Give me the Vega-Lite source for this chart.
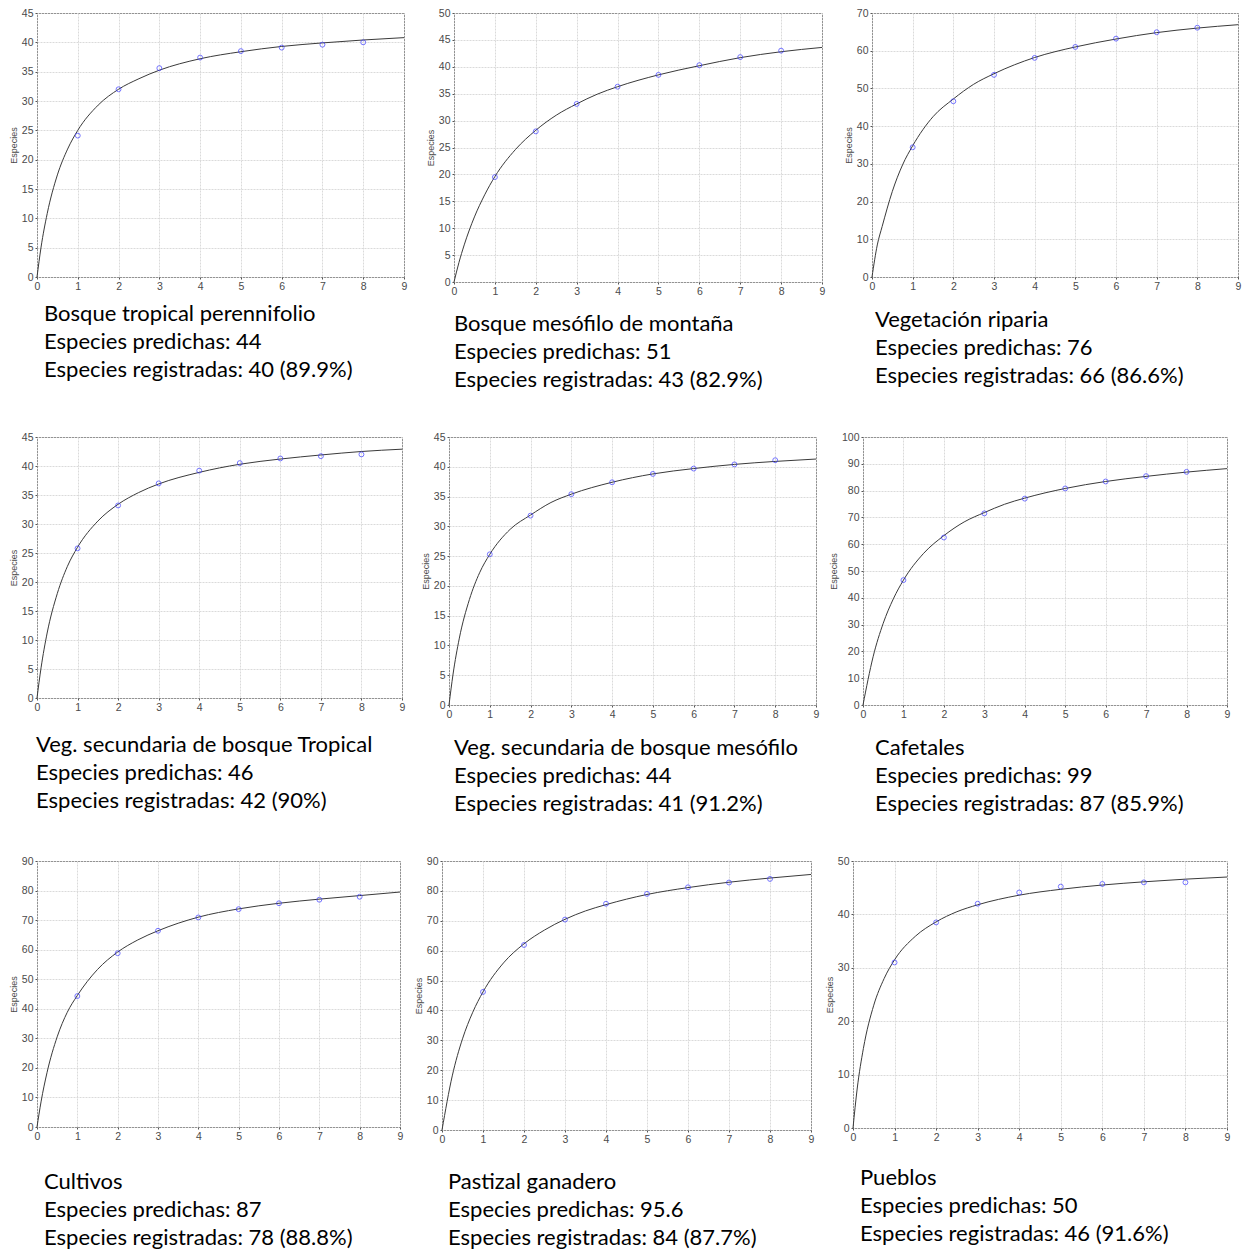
{
  "$schema": "https://vega.github.io/schema/vega-lite/v6.json",
  "background": "white",
  "padding": {"left": 8, "top": 7, "right": 0, "bottom": 0},
  "config": {
    "view": {"stroke": "#4d4d4d", "strokeWidth": 1},
    "font": "Liberation Sans",
    "axis": {
      "domain": false, "grid": true, "gridColor": "#dadada", "gridDash": [2, 1], "gridWidth": 1,
      "ticks": true, "tickSize": 2, "tickColor": "#555555",
      "labelFont": "Liberation Sans", "labelFontSize": 10.5, "labelColor": "#4a4a4a", "labelPadding": 2,
      "labelFlush": false, "labelOverlap": false,
      "titleFont": "Liberation Sans", "titleFontSize": 9, "titleFontWeight": "normal", "titleColor": "#4a4a4a", "titlePadding": 3
    },
    "title": {"font": "Lato", "fontSize": 22, "fontWeight": "normal", "color": "#000000", "lineHeight": 28, "orient": "bottom", "anchor": "start", "frame": "group"},
    "line": {"color": "#3a3a3a", "strokeWidth": 1, "interpolate": "monotone"},
    "point": {"shape": "circle", "filled": false, "size": 24, "color": "#3b3bff", "strokeWidth": 1}
  },
  "datasets": {
    "obs": [
      {"p": 1, "x": 1, "y": 24.1}, {"p": 1, "x": 2, "y": 32.0}, {"p": 1, "x": 3, "y": 35.6}, {"p": 1, "x": 4, "y": 37.4}, {"p": 1, "x": 5, "y": 38.5}, {"p": 1, "x": 6, "y": 39.1}, {"p": 1, "x": 7, "y": 39.6}, {"p": 1, "x": 8, "y": 40.0},
      {"p": 2, "x": 1, "y": 19.5}, {"p": 2, "x": 2, "y": 28.0}, {"p": 2, "x": 3, "y": 33.1}, {"p": 2, "x": 4, "y": 36.3}, {"p": 2, "x": 5, "y": 38.5}, {"p": 2, "x": 6, "y": 40.3}, {"p": 2, "x": 7, "y": 41.8}, {"p": 2, "x": 8, "y": 43.0},
      {"p": 3, "x": 1, "y": 34.4}, {"p": 3, "x": 2, "y": 46.6}, {"p": 3, "x": 3, "y": 53.6}, {"p": 3, "x": 4, "y": 58.1}, {"p": 3, "x": 5, "y": 61.0}, {"p": 3, "x": 6, "y": 63.2}, {"p": 3, "x": 7, "y": 64.9}, {"p": 3, "x": 8, "y": 66.1},
      {"p": 4, "x": 1, "y": 25.8}, {"p": 4, "x": 2, "y": 33.2}, {"p": 4, "x": 3, "y": 37.0}, {"p": 4, "x": 4, "y": 39.2}, {"p": 4, "x": 5, "y": 40.5}, {"p": 4, "x": 6, "y": 41.3}, {"p": 4, "x": 7, "y": 41.7}, {"p": 4, "x": 8, "y": 42.0},
      {"p": 5, "x": 1, "y": 25.3}, {"p": 5, "x": 2, "y": 31.8}, {"p": 5, "x": 3, "y": 35.4}, {"p": 5, "x": 4, "y": 37.4}, {"p": 5, "x": 5, "y": 38.8}, {"p": 5, "x": 6, "y": 39.7}, {"p": 5, "x": 7, "y": 40.4}, {"p": 5, "x": 8, "y": 41.1},
      {"p": 6, "x": 1, "y": 46.6}, {"p": 6, "x": 2, "y": 62.5}, {"p": 6, "x": 3, "y": 71.5}, {"p": 6, "x": 4, "y": 77.0}, {"p": 6, "x": 5, "y": 80.8}, {"p": 6, "x": 6, "y": 83.4}, {"p": 6, "x": 7, "y": 85.4}, {"p": 6, "x": 8, "y": 87.0},
      {"p": 7, "x": 1, "y": 44.3}, {"p": 7, "x": 2, "y": 58.8}, {"p": 7, "x": 3, "y": 66.4}, {"p": 7, "x": 4, "y": 70.9}, {"p": 7, "x": 5, "y": 73.7}, {"p": 7, "x": 6, "y": 75.7}, {"p": 7, "x": 7, "y": 76.9}, {"p": 7, "x": 8, "y": 77.9},
      {"p": 8, "x": 1, "y": 46.2}, {"p": 8, "x": 2, "y": 61.9}, {"p": 8, "x": 3, "y": 70.4}, {"p": 8, "x": 4, "y": 75.7}, {"p": 8, "x": 5, "y": 79.0}, {"p": 8, "x": 6, "y": 81.2}, {"p": 8, "x": 7, "y": 82.8}, {"p": 8, "x": 8, "y": 84.0},
      {"p": 9, "x": 1, "y": 31.0}, {"p": 9, "x": 2, "y": 38.5}, {"p": 9, "x": 3, "y": 42.0}, {"p": 9, "x": 4, "y": 44.1}, {"p": 9, "x": 5, "y": 45.2}, {"p": 9, "x": 6, "y": 45.7}, {"p": 9, "x": 7, "y": 46.0}, {"p": 9, "x": 8, "y": 46.0}
    ],
    "curva": [
      {"p": 1, "x": 0, "y": 0}, {"p": 1, "x": 0.1, "y": 5.1}, {"p": 1, "x": 0.25, "y": 10.8}, {"p": 1, "x": 0.5, "y": 17.4}, {"p": 1, "x": 0.75, "y": 21.8}, {"p": 1, "x": 1, "y": 25.0}, {"p": 1, "x": 1.5, "y": 29.3}, {"p": 1, "x": 2, "y": 32.0}, {"p": 1, "x": 2.5, "y": 33.8}, {"p": 1, "x": 3, "y": 35.25}, {"p": 1, "x": 4, "y": 37.2}, {"p": 1, "x": 5, "y": 38.4}, {"p": 1, "x": 6, "y": 39.3}, {"p": 1, "x": 7, "y": 39.9}, {"p": 1, "x": 8, "y": 40.4}, {"p": 1, "x": 9, "y": 40.8},
      {"p": 2, "x": 0, "y": 0}, {"p": 2, "x": 0.12, "y": 3.6}, {"p": 2, "x": 0.25, "y": 6.9}, {"p": 2, "x": 0.5, "y": 12.1}, {"p": 2, "x": 0.75, "y": 16.2}, {"p": 2, "x": 1, "y": 19.6}, {"p": 2, "x": 1.5, "y": 24.6}, {"p": 2, "x": 2, "y": 28.2}, {"p": 2, "x": 2.5, "y": 31.0}, {"p": 2, "x": 3, "y": 33.1}, {"p": 2, "x": 3.5, "y": 34.9}, {"p": 2, "x": 4, "y": 36.3}, {"p": 2, "x": 5, "y": 38.5}, {"p": 2, "x": 6, "y": 40.2}, {"p": 2, "x": 7, "y": 41.7}, {"p": 2, "x": 8, "y": 42.8}, {"p": 2, "x": 9, "y": 43.6},
      {"p": 3, "x": 0, "y": 0}, {"p": 3, "x": 0.13, "y": 8.5}, {"p": 3, "x": 0.25, "y": 13.4}, {"p": 3, "x": 0.5, "y": 22.7}, {"p": 3, "x": 0.75, "y": 29.7}, {"p": 3, "x": 1, "y": 34.8}, {"p": 3, "x": 1.5, "y": 42.5}, {"p": 3, "x": 2, "y": 47.2}, {"p": 3, "x": 2.5, "y": 51.1}, {"p": 3, "x": 3, "y": 53.9}, {"p": 3, "x": 4, "y": 58.2}, {"p": 3, "x": 5, "y": 61.0}, {"p": 3, "x": 6, "y": 63.1}, {"p": 3, "x": 7, "y": 64.8}, {"p": 3, "x": 8, "y": 66.0}, {"p": 3, "x": 9, "y": 66.9},
      {"p": 4, "x": 0, "y": 0}, {"p": 4, "x": 0.1, "y": 5.2}, {"p": 4, "x": 0.25, "y": 11.2}, {"p": 4, "x": 0.5, "y": 18.0}, {"p": 4, "x": 0.75, "y": 22.7}, {"p": 4, "x": 1, "y": 26.0}, {"p": 4, "x": 1.5, "y": 30.5}, {"p": 4, "x": 2, "y": 33.4}, {"p": 4, "x": 2.5, "y": 35.4}, {"p": 4, "x": 3, "y": 36.9}, {"p": 4, "x": 4, "y": 38.9}, {"p": 4, "x": 5, "y": 40.3}, {"p": 4, "x": 6, "y": 41.2}, {"p": 4, "x": 7, "y": 41.9}, {"p": 4, "x": 8, "y": 42.5}, {"p": 4, "x": 9, "y": 42.9},
      {"p": 5, "x": 0, "y": 0}, {"p": 5, "x": 0.1, "y": 5.2}, {"p": 5, "x": 0.25, "y": 11.1}, {"p": 5, "x": 0.5, "y": 17.7}, {"p": 5, "x": 0.75, "y": 22.2}, {"p": 5, "x": 1, "y": 25.3}, {"p": 5, "x": 1.5, "y": 29.5}, {"p": 5, "x": 2, "y": 31.9}, {"p": 5, "x": 2.5, "y": 34.0}, {"p": 5, "x": 3, "y": 35.4}, {"p": 5, "x": 4, "y": 37.4}, {"p": 5, "x": 5, "y": 38.8}, {"p": 5, "x": 6, "y": 39.7}, {"p": 5, "x": 7, "y": 40.4}, {"p": 5, "x": 8, "y": 40.9}, {"p": 5, "x": 9, "y": 41.3},
      {"p": 6, "x": 0, "y": 0}, {"p": 6, "x": 0.25, "y": 18.0}, {"p": 6, "x": 0.5, "y": 30.5}, {"p": 6, "x": 0.75, "y": 39.6}, {"p": 6, "x": 1, "y": 46.6}, {"p": 6, "x": 1.5, "y": 56.6}, {"p": 6, "x": 2, "y": 63.2}, {"p": 6, "x": 2.5, "y": 68.3}, {"p": 6, "x": 3, "y": 71.8}, {"p": 6, "x": 3.5, "y": 74.9}, {"p": 6, "x": 4, "y": 77.2}, {"p": 6, "x": 5, "y": 80.8}, {"p": 6, "x": 6, "y": 83.4}, {"p": 6, "x": 7, "y": 85.3}, {"p": 6, "x": 8, "y": 86.9}, {"p": 6, "x": 9, "y": 88.2},
      {"p": 7, "x": 0, "y": 0}, {"p": 7, "x": 0.1, "y": 8.5}, {"p": 7, "x": 0.25, "y": 18.5}, {"p": 7, "x": 0.5, "y": 30.5}, {"p": 7, "x": 0.75, "y": 38.8}, {"p": 7, "x": 1, "y": 44.5}, {"p": 7, "x": 1.5, "y": 53.3}, {"p": 7, "x": 2, "y": 59.2}, {"p": 7, "x": 2.5, "y": 63.3}, {"p": 7, "x": 3, "y": 66.4}, {"p": 7, "x": 4, "y": 71.0}, {"p": 7, "x": 5, "y": 73.8}, {"p": 7, "x": 6, "y": 75.7}, {"p": 7, "x": 7, "y": 77.1}, {"p": 7, "x": 8, "y": 78.3}, {"p": 7, "x": 9, "y": 79.5},
      {"p": 8, "x": 0, "y": 0}, {"p": 8, "x": 0.25, "y": 18.1}, {"p": 8, "x": 0.5, "y": 30.5}, {"p": 8, "x": 0.75, "y": 39.4}, {"p": 8, "x": 1, "y": 46.2}, {"p": 8, "x": 1.5, "y": 55.9}, {"p": 8, "x": 2, "y": 62.3}, {"p": 8, "x": 2.5, "y": 66.9}, {"p": 8, "x": 3, "y": 70.5}, {"p": 8, "x": 3.5, "y": 73.3}, {"p": 8, "x": 4, "y": 75.4}, {"p": 8, "x": 5, "y": 78.8}, {"p": 8, "x": 6, "y": 81.1}, {"p": 8, "x": 7, "y": 82.9}, {"p": 8, "x": 8, "y": 84.3}, {"p": 8, "x": 9, "y": 85.5},
      {"p": 9, "x": 0, "y": 0}, {"p": 9, "x": 0.1, "y": 7.3}, {"p": 9, "x": 0.25, "y": 14.9}, {"p": 9, "x": 0.5, "y": 23.0}, {"p": 9, "x": 0.75, "y": 28.0}, {"p": 9, "x": 1, "y": 31.5}, {"p": 9, "x": 1.5, "y": 35.9}, {"p": 9, "x": 2, "y": 38.6}, {"p": 9, "x": 2.5, "y": 40.5}, {"p": 9, "x": 3, "y": 41.8}, {"p": 9, "x": 4, "y": 43.6}, {"p": 9, "x": 5, "y": 44.7}, {"p": 9, "x": 6, "y": 45.5}, {"p": 9, "x": 7, "y": 46.1}, {"p": 9, "x": 8, "y": 46.6}, {"p": 9, "x": 9, "y": 47.0}
    ]
  },
  "spacing": 40,
  "vconcat": [
    {
      "hconcat": [
        {
          "width": 367, "height": 264,
          "title": {"text": ["Bosque tropical perennifolio", "Especies predichas: 44", "Especies registradas: 40 (89.9%)"], "dx": 7, "offset": 12},
          "encoding": {
            "x": {"field": "x", "type": "quantitative", "scale": {"domain": [0, 9], "nice": false}, "axis": {"values": [0, 1, 2, 3, 4, 5, 6, 7, 8, 9], "title": null}},
            "y": {"field": "y", "type": "quantitative", "scale": {"domain": [0, 45], "nice": false}, "axis": {"values": [0, 5, 10, 15, 20, 25, 30, 35, 40, 45], "title": "Especies"}}
          },
          "layer": [
            {"data": {"name": "curva"}, "transform": [{"filter": "datum.p == 1"}], "mark": {"type": "line"}},
            {"data": {"name": "obs"}, "transform": [{"filter": "datum.p == 1"}], "mark": {"type": "point"}}
          ]
        },
        {
          "width": 368, "height": 269,
          "title": {"text": ["Bosque mesófilo de montaña", "Especies predichas: 51", "Especies registradas: 43 (82.9%)"], "dx": 0, "offset": 17},
          "encoding": {
            "x": {"field": "x", "type": "quantitative", "scale": {"domain": [0, 9], "nice": false}, "axis": {"values": [0, 1, 2, 3, 4, 5, 6, 7, 8, 9], "title": null}},
            "y": {"field": "y", "type": "quantitative", "scale": {"domain": [0, 50], "nice": false}, "axis": {"values": [0, 5, 10, 15, 20, 25, 30, 35, 40, 45, 50], "title": "Especies"}}
          },
          "layer": [
            {"data": {"name": "curva"}, "transform": [{"filter": "datum.p == 2"}], "mark": {"type": "line"}},
            {"data": {"name": "obs"}, "transform": [{"filter": "datum.p == 2"}], "mark": {"type": "point"}}
          ]
        },
        {
          "width": 366, "height": 264,
          "title": {"text": ["Vegetación riparia", "Especies predichas: 76", "Especies registradas: 66 (86.6%)"], "dx": 3, "offset": 18},
          "encoding": {
            "x": {"field": "x", "type": "quantitative", "scale": {"domain": [0, 9], "nice": false}, "axis": {"values": [0, 1, 2, 3, 4, 5, 6, 7, 8, 9], "title": null}},
            "y": {"field": "y", "type": "quantitative", "scale": {"domain": [0, 70], "nice": false}, "axis": {"values": [0, 10, 20, 30, 40, 50, 60, 70], "title": "Especies"}}
          },
          "layer": [
            {"data": {"name": "curva"}, "transform": [{"filter": "datum.p == 3"}], "mark": {"type": "line"}},
            {"data": {"name": "obs"}, "transform": [{"filter": "datum.p == 3"}], "mark": {"type": "point"}}
          ]
        }
      ],
      "spacing": 50, "bounds": "flush"
    },
    {
      "hconcat": [
        {
          "width": 365, "height": 261,
          "title": {"text": ["Veg. secundaria de bosque Tropical", "Especies predichas: 46", "Especies registradas: 42 (90%)"], "dx": -1, "offset": 22},
          "encoding": {
            "x": {"field": "x", "type": "quantitative", "scale": {"domain": [0, 9], "nice": false}, "axis": {"values": [0, 1, 2, 3, 4, 5, 6, 7, 8, 9], "title": null}},
            "y": {"field": "y", "type": "quantitative", "scale": {"domain": [0, 45], "nice": false}, "axis": {"values": [0, 5, 10, 15, 20, 25, 30, 35, 40, 45], "title": "Especies"}}
          },
          "layer": [
            {"data": {"name": "curva"}, "transform": [{"filter": "datum.p == 4"}], "mark": {"type": "line"}},
            {"data": {"name": "obs"}, "transform": [{"filter": "datum.p == 4"}], "mark": {"type": "point"}}
          ]
        },
        {
          "width": 367, "height": 268,
          "title": {"text": ["Veg. secundaria de bosque mesófilo", "Especies predichas: 44", "Especies registradas: 41 (91.2%)"], "dx": 5, "offset": 18},
          "encoding": {
            "x": {"field": "x", "type": "quantitative", "scale": {"domain": [0, 9], "nice": false}, "axis": {"values": [0, 1, 2, 3, 4, 5, 6, 7, 8, 9], "title": null}},
            "y": {"field": "y", "type": "quantitative", "scale": {"domain": [0, 45], "nice": false}, "axis": {"values": [0, 5, 10, 15, 20, 25, 30, 35, 40, 45], "title": "Especies"}}
          },
          "layer": [
            {"data": {"name": "curva"}, "transform": [{"filter": "datum.p == 5"}], "mark": {"type": "line"}},
            {"data": {"name": "obs"}, "transform": [{"filter": "datum.p == 5"}], "mark": {"type": "point"}}
          ]
        },
        {
          "width": 364, "height": 268,
          "title": {"text": ["Cafetales", "Especies predichas: 99", "Especies registradas: 87 (85.9%)"], "dx": 12, "offset": 18},
          "encoding": {
            "x": {"field": "x", "type": "quantitative", "scale": {"domain": [0, 9], "nice": false}, "axis": {"values": [0, 1, 2, 3, 4, 5, 6, 7, 8, 9], "title": null}},
            "y": {"field": "y", "type": "quantitative", "scale": {"domain": [0, 100], "nice": false}, "axis": {"values": [0, 10, 20, 30, 40, 50, 60, 70, 80, 90, 100], "title": "Especies"}}
          },
          "layer": [
            {"data": {"name": "curva"}, "transform": [{"filter": "datum.p == 6"}], "mark": {"type": "line"}},
            {"data": {"name": "obs"}, "transform": [{"filter": "datum.p == 6"}], "mark": {"type": "point"}}
          ]
        }
      ],
      "spacing": 47, "bounds": "flush"
    },
    {
      "hconcat": [
        {
          "width": 363, "height": 266,
          "title": {"text": ["Cultivos", "Especies predichas: 87", "Especies registradas: 78 (88.8%)"], "dx": 7, "offset": 30},
          "encoding": {
            "x": {"field": "x", "type": "quantitative", "scale": {"domain": [0, 9], "nice": false}, "axis": {"values": [0, 1, 2, 3, 4, 5, 6, 7, 8, 9], "title": null}},
            "y": {"field": "y", "type": "quantitative", "scale": {"domain": [0, 90], "nice": false}, "axis": {"values": [0, 10, 20, 30, 40, 50, 60, 70, 80, 90], "title": "Especies"}}
          },
          "layer": [
            {"data": {"name": "curva"}, "transform": [{"filter": "datum.p == 7"}], "mark": {"type": "line"}},
            {"data": {"name": "obs"}, "transform": [{"filter": "datum.p == 7"}], "mark": {"type": "point"}}
          ]
        },
        {
          "width": 369, "height": 269,
          "title": {"text": ["Pastizal ganadero", "Especies predichas: 95.6", "Especies registradas: 84 (87.7%)"], "dx": 6, "offset": 27},
          "encoding": {
            "x": {"field": "x", "type": "quantitative", "scale": {"domain": [0, 9], "nice": false}, "axis": {"values": [0, 1, 2, 3, 4, 5, 6, 7, 8, 9], "title": null}},
            "y": {"field": "y", "type": "quantitative", "scale": {"domain": [0, 90], "nice": false}, "axis": {"values": [0, 10, 20, 30, 40, 50, 60, 70, 80, 90], "title": "Especies"}}
          },
          "layer": [
            {"data": {"name": "curva"}, "transform": [{"filter": "datum.p == 8"}], "mark": {"type": "line"}},
            {"data": {"name": "obs"}, "transform": [{"filter": "datum.p == 8"}], "mark": {"type": "point"}}
          ]
        },
        {
          "width": 374, "height": 267,
          "title": {"text": ["Pueblos", "Especies predichas: 50", "Especies registradas: 46 (91.6%)"], "dx": 7, "offset": 25},
          "encoding": {
            "x": {"field": "x", "type": "quantitative", "scale": {"domain": [0, 9], "nice": false}, "axis": {"values": [0, 1, 2, 3, 4, 5, 6, 7, 8, 9], "title": null}},
            "y": {"field": "y", "type": "quantitative", "scale": {"domain": [0, 50], "nice": false}, "axis": {"values": [0, 10, 20, 30, 40, 50], "title": "Especies"}}
          },
          "layer": [
            {"data": {"name": "curva"}, "transform": [{"filter": "datum.p == 9"}], "mark": {"type": "line"}},
            {"data": {"name": "obs"}, "transform": [{"filter": "datum.p == 9"}], "mark": {"type": "point"}}
          ]
        }
      ],
      "spacing": 42, "bounds": "flush"
    }
  ]
}
